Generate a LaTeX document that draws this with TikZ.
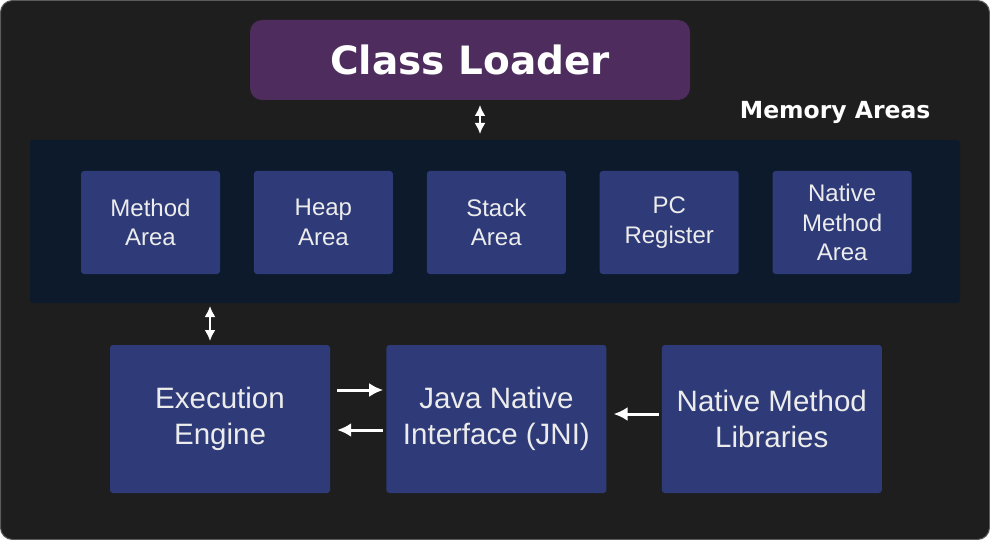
\documentclass[tikz,border=0pt]{standalone}
\usepackage{fontspec}
\setmainfont{Liberation Sans}
\newfontfamily\headfont{DejaVu Sans}
\usetikzlibrary{positioning,arrows.meta}
\definecolor{pagebg}{HTML}{1E1E1E}
\definecolor{pageedge}{HTML}{5A5A5A}
\definecolor{loaderpurple}{HTML}{4E2D5E}
\definecolor{memnavy}{HTML}{0C1A2C}
\definecolor{boxblue}{HTML}{2E3B78}
\definecolor{boxtext}{HTML}{ECECEC}

\begin{document}
\begin{tikzpicture}[
    x=1pt, y=-1pt,
    node distance=33.5pt and 33.5pt,
    membox/.style={rectangle, fill=boxblue, rounded corners=3pt, minimum width=139pt, minimum height=103pt,
        align=center, text=boxtext, inner sep=0pt, font=\fontsize{24}{29.5}\selectfont},
    engbox/.style={rectangle, fill=boxblue, rounded corners=3pt, minimum width=220pt, minimum height=148pt,
        align=center, text=boxtext, inner sep=0pt, font=\fontsize{29.5}{36}\selectfont},
    arr/.style={{Latex[length=11pt,width=11pt]}-{Latex[length=11pt,width=11pt]}, line width=2pt, white},
    onearr/.style={-{Latex[length=14pt,width=14pt]}, line width=3pt, white}
]

% --- page ---
\path[use as bounding box, fill=pagebg, draw=pageedge, line width=1pt, rounded corners=12pt]
    (0.5,0.5) rectangle (989.5,539.5);

% --- class loader ---
\node[rectangle, fill=loaderpurple, rounded corners=12pt, minimum width=440pt, minimum height=80pt,
    text=white, font=\headfont\bfseries\fontsize{39}{46}\selectfont] (loader) at (470,60) {Class Loader};

% --- memory areas ---
\node[rectangle, fill=memnavy, rounded corners=3pt, minimum width=930pt, minimum height=163pt] (memory) at (495,221.5) {};
\node[text=white, font=\headfont\bfseries\fontsize{23.5}{28}\selectfont, anchor=east] (memlabel) at (934,112) {Memory Areas};

\node[membox] (method) at (150.5,222.5) {Method\\Area};
\node[membox, right=of method] (heap) {Heap\\Area};
\node[membox, right=of heap] (stack) {Stack\\Area};
\node[membox, right=of stack] (pcreg) {PC\\Register};
\node[membox, right=of pcreg] (native) {Native\\Method\\Area};

% --- execution side ---
\node[engbox] (engine) at (220,419) {Execution\\Engine};
\node[engbox, right=56pt of engine] (jni) {Java Native\\Interface (JNI)};
\node[engbox, right=55pt of jni] (libs) {Native Method\\Libraries};

% --- connectors ---
\coordinate (loaderfoot) at (480,105);
\coordinate (memtop) at (480,134);
\draw[arr] (loaderfoot) -- (memtop);
\coordinate (memfoot) at (210,306);
\coordinate (enginetop) at (210,341);
\draw[arr] (memfoot) -- (enginetop);

\draw[onearr] ([xshift=7pt,yshift=29pt]engine.east) -- ([xshift=-3pt,yshift=29pt]jni.west);
\draw[onearr] ([xshift=-3pt,yshift=-11pt]jni.west) -- ([xshift=7pt,yshift=-11pt]engine.east);
\draw[onearr] ([xshift=-3pt,yshift=5pt]libs.west) -- ([xshift=7pt,yshift=5pt]jni.east);

\end{tikzpicture}
\end{document}
